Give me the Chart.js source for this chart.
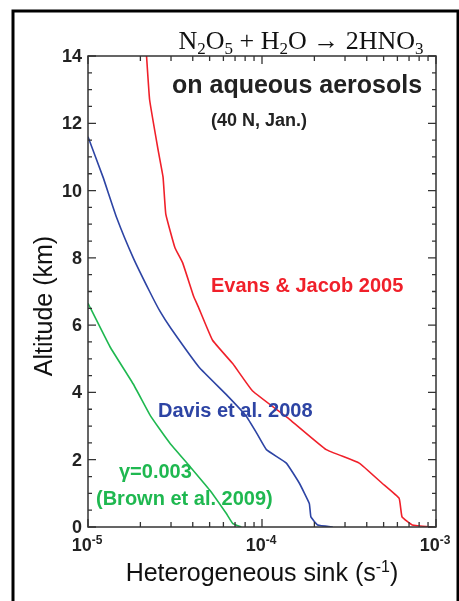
<!DOCTYPE html>
<html>
<head>
    <title>N2O5 heterogeneous sink</title>
    <script src="https://cdn.jsdelivr.net/npm/chart.js"></script>
    <style>body { margin: 0; background: #fff; }</style>
</head>
<body>
    <canvas id="myChart" width="459" height="601"></canvas>
    <script>
        // sink (s-1) against altitude (km)
        var evansAlt = [14, 12.7, 11.2, 10.4, 9.3, 8.3, 7.85, 6.85, 6.55, 5.55, 4.85, 4.05, 3.2, 2.3, 1.9, 1.3, 0.85, 0.3, 0.06, 0];
        var evansK = [2.17e-5, 2.26e-5, 2.53e-5, 2.7e-5, 2.8e-5, 3.16e-5, 3.5e-5, 4.05e-5, 4.3e-5, 5.2e-5, 6.8e-5, 8.8e-5, 1.44e-4, 2.34e-4, 3.62e-4, 4.9e-4, 6.14e-4, 6.38e-4, 7.3e-4, 9.6e-4];

        var davisAlt = [11.6, 10.4, 9.2, 8.0, 7.0, 6.4, 5.9, 4.75, 3.95, 3.3, 2.8, 2.3, 1.9, 1.3, 0.7, 0.3, 0.06, 0];
        var davisK = [1.0e-5, 1.22e-5, 1.46e-5, 1.82e-5, 2.26e-5, 2.6e-5, 3.0e-5, 4.35e-5, 6.2e-5, 8.1e-5, 9.3e-5, 1.06e-4, 1.38e-4, 1.64e-4, 1.87e-4, 1.91e-4, 2.09e-4, 2.55e-4];

        var brownAlt = [6.65, 5.35, 4.25, 3.35, 2.95, 2.5, 1.8, 1.1, 0.4, 0.1, 0];
        var brownK = [1.0e-5, 1.34e-5, 1.82e-5, 2.26e-5, 2.55e-5, 2.95e-5, 3.85e-5, 5.0e-5, 6.24e-5, 6.8e-5, 7.6e-5];

        var yTickLabels = [0, 2, 4, 6, 8, 10, 12, 14];
        var xTickExps = [-5, -4, -3];

        var RED = '#f0202a', BLUE = '#2d44a4', GREEN = '#1fb850';
        var SANS = '"Liberation Sans", Arial, sans-serif';

        function pts(ks, alts) {
            return ks.map(function (k, i) { return { x: k, y: alts[i] }; });
        }

        // text with sub/superscripts: parts = [[text, shift]], shift 1 = sup, -1 = sub
        function rich(ctx, parts, x, y, size, weight, family, align) {
            var w = 0;
            parts.forEach(function (p) {
                ctx.font = weight + ' ' + (p[1] ? Math.round(size * 0.65) : size) + 'px ' + family;
                p.w = ctx.measureText(p[0]).width;
                w += p.w;
            });
            var cx = align === 'center' ? x - w / 2 : x;
            ctx.textAlign = 'left';
            ctx.textBaseline = 'alphabetic';
            parts.forEach(function (p) {
                ctx.font = weight + ' ' + (p[1] ? Math.round(size * 0.65) : size) + 'px ' + family;
                var dy = p[1] > 0 ? -size * 0.38 : (p[1] < 0 ? size * 0.2 : 0);
                ctx.fillText(p[0], cx, y + dy);
                cx += p.w;
            });
        }

        var decor = {
            id: 'decor',
            beforeDraw: function (chart) {
                var ctx = chart.ctx;
                ctx.save();
                ctx.fillStyle = '#fff';
                ctx.fillRect(0, 0, chart.width, chart.height);
                ctx.strokeStyle = '#000';
                ctx.lineWidth = 3;
                ctx.strokeRect(13, 11, 445, 640);
                ctx.restore();
            },
            afterDraw: function (chart) {
                var ctx = chart.ctx, a = chart.chartArea;
                var xs = chart.scales.x, ys = chart.scales.y;
                ctx.save();
                ctx.strokeStyle = '#333';
                ctx.lineWidth = 1.5;
                ctx.strokeRect(a.left, a.top, a.right - a.left, a.bottom - a.top);

                // ticks, all pointing inward
                ctx.lineWidth = 1.3;
                ctx.beginPath();
                for (var v = yTickLabels[0]; v <= yTickLabels[yTickLabels.length - 1]; v += 0.5) {
                    var py = ys.getPixelForValue(v);
                    var len = v % 2 === 0 ? 8 : 4;
                    ctx.moveTo(a.left, py); ctx.lineTo(a.left + len, py);
                    ctx.moveTo(a.right, py); ctx.lineTo(a.right - len, py);
                }
                xTickExps.forEach(function (e) {
                    for (var m = 1; m <= 9; m++) {
                        var val = m * Math.pow(10, e);
                        if (val > 1.0001e-3) break;
                        var px = xs.getPixelForValue(val);
                        var len = m === 1 ? 8 : 5;
                        ctx.moveTo(px, a.bottom); ctx.lineTo(px, a.bottom - len);
                        ctx.moveTo(px, a.top); ctx.lineTo(px, a.top + len);
                    }
                });
                ctx.stroke();

                // tick labels
                ctx.fillStyle = '#222';
                ctx.font = 'bold 18px ' + SANS;
                ctx.textAlign = 'right';
                ctx.textBaseline = 'middle';
                yTickLabels.forEach(function (v) {
                    ctx.fillText(String(v), 82, ys.getPixelForValue(v) + 1);
                });
                xTickExps.forEach(function (e) {
                    var px = xs.getPixelForValue(Math.pow(10, e));
                    rich(ctx, [['10', 0], [String(e), 1]], px - 1, 551, 18, 'bold', SANS, 'center');
                });

                // axis titles
                ctx.fillStyle = '#111';
                rich(ctx, [['Heterogeneous sink (s', 0], ['-1', 1], [')', 0]], 262, 581, 25, 'normal', SANS, 'center');
                ctx.save();
                ctx.translate(52, 306);
                ctx.rotate(-Math.PI / 2);
                ctx.font = '25px ' + SANS;
                ctx.textAlign = 'center';
                ctx.textBaseline = 'alphabetic';
                ctx.fillText('Altitude (km)', 0, 0);
                ctx.restore();

                // reaction heading
                ctx.fillStyle = '#111';
                rich(ctx, [['N', 0], ['2', -1], ['O', 0], ['5', -1], [' + H', 0], ['2', -1], ['O \u2192 2HNO', 0], ['3', -1]],
                    301, 49, 26, 'normal', '"Liberation Serif", "DejaVu Serif", serif', 'center');

                // annotations
                ctx.textAlign = 'left';
                ctx.textBaseline = 'alphabetic';
                ctx.fillStyle = '#222';
                ctx.font = 'bold 25px ' + SANS;
                ctx.fillText('on aqueous aerosols', 172, 93);
                ctx.font = 'bold 18px ' + SANS;
                ctx.fillText('(40 N, Jan.)', 211, 126);

                ctx.font = 'bold 20px ' + SANS;
                ctx.fillStyle = RED;
                ctx.fillText('Evans & Jacob 2005', 211, 292);
                ctx.fillStyle = BLUE;
                ctx.fillText('Davis et al. 2008', 158, 417);
                ctx.fillStyle = GREEN;
                ctx.fillText('\u03b3=0.003', 119, 478);
                ctx.fillText('(Brown et al. 2009)', 96, 505);
                ctx.restore();
            }
        };

        var ctx = document.getElementById('myChart').getContext('2d');
        var myChart = new Chart(ctx, {
            type: 'scatter',
            data: {
                datasets: [
                    { label: 'Evans & Jacob 2005', data: pts(evansK, evansAlt), borderColor: RED },
                    { label: 'Davis et al. 2008', data: pts(davisK, davisAlt), borderColor: BLUE },
                    { label: 'Brown et al. 2009', data: pts(brownK, brownAlt), borderColor: GREEN }
                ]
            },
            options: {
                responsive: false,
                animation: false,
                showLine: true,
                elements: {
                    point: { radius: 0 },
                    line: { borderWidth: 1.6, tension: 0.1 }
                },
                layout: { padding: { left: 88, top: 56, right: 23, bottom: 74 } },
                plugins: { legend: { display: false }, tooltip: { enabled: false } },
                scales: {
                    x: { type: 'logarithmic', min: 1e-5, max: 1e-3, display: false },
                    y: { type: 'linear', min: 0, max: 14, display: false }
                }
            },
            plugins: [decor]
        });
    </script>
</body>
</html>
